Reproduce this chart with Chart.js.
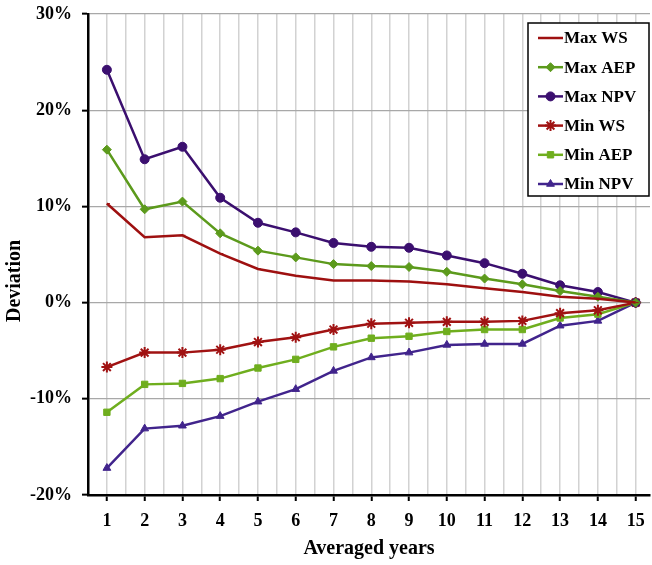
<!DOCTYPE html>
<html>
<head>
<meta charset="utf-8">
<script src="https://cdn.jsdelivr.net/npm/chart.js@4/dist/chart.umd.min.js"></script>
<style>
  html, body { margin: 0; padding: 0; background: #fff; }
  #wrap { width: 652px; height: 565px; }
</style>
</head>
<body>
<div id="wrap"><canvas id="c" width="652" height="565"></canvas></div>
<script>
// averaged years (x) and deviation in % (y)
const years = [1, 2, 3, 4, 5, 6, 7, 8, 9, 10, 11, 12, 13, 14, 15];
const maxWS  = [10.3, 6.8, 7.0, 5.1, 3.5, 2.8, 2.3, 2.3, 2.2, 1.9, 1.5, 1.1, 0.6, 0.4, 0];
const maxAEP = [15.9, 9.7, 10.5, 7.2, 5.4, 4.7, 4.0, 3.8, 3.7, 3.2, 2.5, 1.9, 1.2, 0.6, 0];
const maxNPV = [24.2, 14.9, 16.2, 10.9, 8.3, 7.3, 6.2, 5.8, 5.7, 4.9, 4.1, 3.0, 1.8, 1.1, 0];
const minWS  = [-6.7, -5.2, -5.2, -4.9, -4.1, -3.6, -2.8, -2.2, -2.1, -2.0, -2.0, -1.9, -1.1, -0.8, 0];
const minAEP = [-11.4, -8.5, -8.4, -7.9, -6.8, -5.9, -4.6, -3.7, -3.5, -3.0, -2.8, -2.8, -1.6, -1.2, 0];
const minNPV = [-17.2, -13.1, -12.8, -11.8, -10.3, -9.0, -7.1, -5.7, -5.2, -4.4, -4.3, -4.3, -2.4, -1.9, 0];
const yTicks = [-20, -10, 0, 10, 20, 30];

const FONT = "'Liberation Serif', 'Times New Roman', serif";

function series(label, vals, color, style, radius) {
  return {
    label,
    data: years.map((x, i) => ({ x, y: vals[i] })),
    borderColor: color,
    backgroundColor: color,
    pointBackgroundColor: color,
    pointBorderColor: color,
    borderWidth: 2.5,
    pointStyle: style,
    pointRadius: radius,
    pointBorderWidth: style === 'star' ? 2 : 1,
    tension: 0,
    clip: 8,
  };
}

// legend drawn inside the plot with a framed white box
const legendBox = {
  id: 'legendBox',
  afterDatasetsDraw(chart) {
    const ctx = chart.ctx;
    const area = chart.chartArea;
    const w = 121, h = 173;
    const x0 = area.right - w - 1, y0 = area.top + 9;
    ctx.save();
    ctx.fillStyle = '#fff';
    ctx.fillRect(x0, y0, w, h);
    ctx.strokeStyle = '#000';
    ctx.lineWidth = 1.5;
    ctx.strokeRect(x0, y0, w, h);
    ctx.font = 'bold 17px ' + FONT;
    ctx.textBaseline = 'middle';
    chart.data.datasets.forEach((ds, i) => {
      const y = y0 + 15 + i * 29.2;
      ctx.strokeStyle = ds.borderColor;
      ctx.lineWidth = 2.5;
      ctx.beginPath();
      ctx.moveTo(x0 + 10, y);
      ctx.lineTo(x0 + 35, y);
      ctx.stroke();
      if (Chart.helpers && Chart.helpers.drawPoint && ds.pointStyle !== 'dash') {
        ctx.fillStyle = ds.borderColor;
        ctx.lineWidth = ds.pointBorderWidth;
        Chart.helpers.drawPoint(ctx, { pointStyle: ds.pointStyle, radius: ds.pointRadius, rotation: 0, borderWidth: ds.pointBorderWidth }, x0 + 22.5, y);
      }
      ctx.fillStyle = '#000';
      ctx.fillText(ds.label, x0 + 36, y + 1);
    });
    ctx.restore();
  }
};

// rotated y-axis title, sitting a bit below the plot's middle as in the source
const yTitle = {
  id: 'yTitle',
  afterDraw(chart) {
    const ctx = chart.ctx;
    const area = chart.chartArea;
    ctx.save();
    ctx.translate(15, area.top + (area.bottom - area.top) * 0.555);
    ctx.rotate(-Math.PI / 2);
    ctx.font = 'bold 20px ' + FONT;
    ctx.fillStyle = '#000';
    ctx.textAlign = 'center';
    ctx.textBaseline = 'middle';
    ctx.fillText('Deviation', 0, 0);
    ctx.restore();
  }
};

new Chart(document.getElementById('c'), {
  type: 'line',
  data: {
    datasets: [
      series('Max WS',  maxWS,  '#9e1010', 'dash', 3),
      series('Max AEP', maxAEP, '#5c9a1c', 'rectRot', 4.5),
      series('Max NPV', maxNPV, '#3b0f6f', 'circle', 4.5),
      series('Min WS',  minWS,  '#a01212', 'star', 5.5),
      series('Min AEP', minAEP, '#6fae1e', 'rect', 4.5),
      series('Min NPV', minNPV, '#41248c', 'triangle', 4.5),
    ],
  },
  options: {
    responsive: false,
    animation: false,
    layout: { autoPadding: false, padding: { top: 14, right: 2, left: 0, bottom: 0 } },
    plugins: { legend: { display: false }, tooltip: { enabled: false } },
    scales: {
      x: {
        type: 'linear',
        min: 0.5, max: 15.38,
        afterFit(scale) {
          scale.height = 70;
          scale.paddingLeft = 0;
          scale.paddingRight = 0;
        },
        afterBuildTicks(scale) {
          const t = [];
          for (let v = 0.5; v <= 15.5; v += 0.5) t.push({ value: v });
          scale.ticks = t;
        },
        ticks: {
          autoSkip: false,
          maxRotation: 0,
          color: '#000',
          padding: 10,
          font: { family: FONT, size: 18, weight: 'bold' },
          callback: v => (Number.isInteger(v) && years.includes(v)) ? String(v) : '',
        },
        grid: {
          color: '#d2d2d2',
          lineWidth: 1.5,
          tickLength: 6,
          tickColor: ctx => (Number.isInteger(ctx.tick && ctx.tick.value) ? '#000' : 'rgba(0,0,0,0)'),
          tickWidth: 2,
        },
        border: { color: '#000', width: 2.5 },
        title: {
          display: true,
          text: 'Averaged years',
          color: '#000',
          font: { family: FONT, size: 20, weight: 'bold' },
          padding: { top: 0 },
        },
      },
      y: {
        min: -20, max: 30,
        afterFit(scale) {
          scale.width = 88;
          scale.paddingTop = 0;
          scale.paddingBottom = 0;
        },
        afterBuildTicks(scale) { scale.ticks = yTicks.map(v => ({ value: v })); },
        ticks: {
          color: '#000',
          padding: 10,
          font: { family: FONT, size: 18, weight: 'bold' },
          callback: v => v + '%',
        },
        grid: {
          color: '#a8a8a8',
          lineWidth: 1.3,
          tickLength: 6,
          tickColor: '#000',
          tickWidth: 2,
        },
        border: { color: '#000', width: 2.5 },
      },
    },
  },
  plugins: [legendBox, yTitle],
});
</script>
</body>
</html>
